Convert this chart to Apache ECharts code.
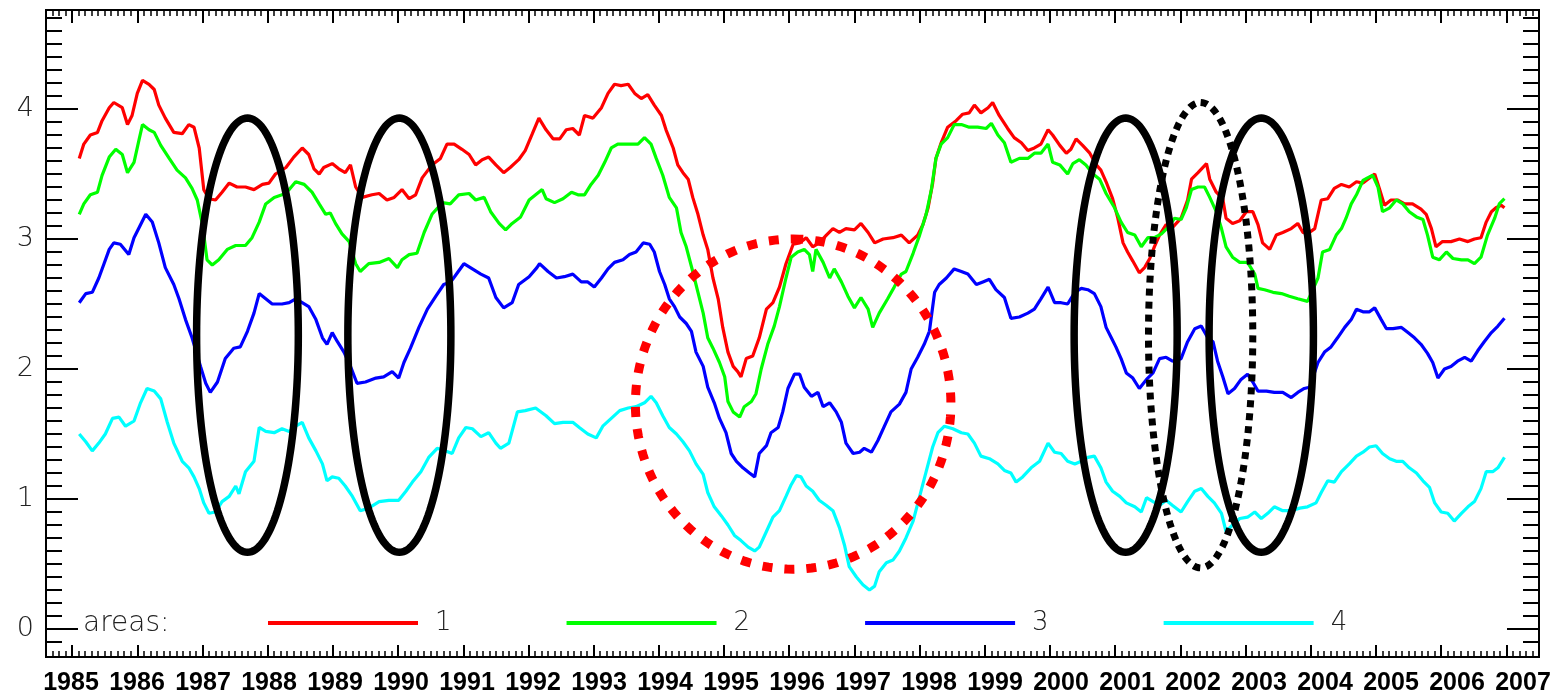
<!DOCTYPE html>
<html><head><meta charset="utf-8">
<script src="https://cdn.jsdelivr.net/npm/echarts@6/dist/echarts.min.js"></script>
<style>html,body{margin:0;padding:0;background:#fff}#c{width:1561px;height:696px}</style>
</head><body><div id="c"></div>
<script>
// ---------------- data ----------------
const seriesNames = ['1', '2', '3', '4'];
const legendTitle = 'areas:';
const xTickYears = [1985, 2007];          // first / last labelled year
const yTickRange = [0, 4];                // labelled y ticks

const area1 = [[1985.11,3.62],[1985.18,3.73],[1985.28,3.80],[1985.39,3.82],[1985.46,3.91],[1985.57,4.01],[1985.64,4.05],[1985.77,4.01],[1985.85,3.88],[1985.92,3.95],[1986.00,4.12],[1986.08,4.22],[1986.18,4.19],[1986.26,4.15],[1986.33,4.03],[1986.43,3.93],[1986.56,3.82],[1986.69,3.81],[1986.79,3.88],[1986.87,3.86],[1986.95,3.70],[1987.02,3.38],[1987.10,3.31],[1987.20,3.30],[1987.30,3.36],[1987.41,3.43],[1987.53,3.40],[1987.66,3.40],[1987.79,3.38],[1987.92,3.42],[1988.02,3.43],[1988.12,3.50],[1988.28,3.55],[1988.40,3.63],[1988.53,3.70],[1988.63,3.65],[1988.71,3.54],[1988.79,3.50],[1988.86,3.55],[1988.99,3.58],[1989.09,3.54],[1989.19,3.51],[1989.27,3.57],[1989.35,3.40],[1989.45,3.32],[1989.60,3.34],[1989.71,3.35],[1989.83,3.30],[1989.94,3.32],[1990.06,3.38],[1990.17,3.31],[1990.27,3.34],[1990.37,3.47],[1990.52,3.57],[1990.65,3.62],[1990.75,3.73],[1990.86,3.73],[1990.98,3.69],[1991.09,3.65],[1991.19,3.57],[1991.29,3.61],[1991.39,3.63],[1991.50,3.57],[1991.62,3.51],[1991.72,3.55],[1991.85,3.61],[1991.95,3.68],[1992.06,3.81],[1992.16,3.93],[1992.27,3.84],[1992.38,3.77],[1992.48,3.77],[1992.58,3.84],[1992.68,3.85],[1992.78,3.80],[1992.86,3.95],[1992.99,3.93],[1993.12,4.01],[1993.22,4.12],[1993.32,4.19],[1993.42,4.18],[1993.53,4.19],[1993.63,4.12],[1993.73,4.08],[1993.83,4.11],[1993.93,4.03],[1994.04,3.95],[1994.11,3.84],[1994.22,3.70],[1994.29,3.57],[1994.37,3.51],[1994.45,3.46],[1994.52,3.32],[1994.60,3.19],[1994.68,3.03],[1994.75,2.92],[1994.83,2.70],[1994.91,2.54],[1994.98,2.32],[1995.06,2.13],[1995.14,2.02],[1995.21,1.98],[1995.26,1.94],[1995.34,2.08],[1995.44,2.10],[1995.54,2.24],[1995.65,2.46],[1995.75,2.51],[1995.85,2.63],[1995.95,2.81],[1996.06,2.96],[1996.16,2.97],[1996.26,3.01],[1996.36,2.94],[1996.46,2.97],[1996.57,3.03],[1996.67,3.08],[1996.77,3.05],[1996.87,3.08],[1997.00,3.07],[1997.10,3.12],[1997.21,3.05],[1997.31,2.97],[1997.44,3.00],[1997.59,3.01],[1997.72,3.03],[1997.84,2.97],[1997.97,3.03],[1998.05,3.11],[1998.13,3.24],[1998.20,3.43],[1998.25,3.62],[1998.33,3.74],[1998.43,3.86],[1998.56,3.91],[1998.66,3.96],[1998.76,3.97],[1998.84,4.03],[1998.94,3.97],[1999.05,4.01],[1999.12,4.05],[1999.22,3.95],[1999.35,3.85],[1999.45,3.78],[1999.56,3.74],[1999.66,3.68],[1999.76,3.70],[1999.86,3.73],[1999.97,3.84],[2000.04,3.80],[2000.15,3.72],[2000.25,3.66],[2000.32,3.69],[2000.40,3.77],[2000.50,3.72],[2000.61,3.66],[2000.71,3.57],[2000.78,3.53],[2000.86,3.44],[2000.96,3.31],[2001.04,3.16],[2001.12,2.97],[2001.19,2.90],[2001.27,2.83],[2001.37,2.74],[2001.45,2.78],[2001.53,2.85],[2001.60,2.94],[2001.68,3.03],[2001.78,3.11],[2001.88,3.09],[2002.01,3.16],[2002.11,3.30],[2002.17,3.46],[2002.27,3.51],[2002.40,3.58],[2002.45,3.46],[2002.55,3.36],[2002.65,3.31],[2002.70,3.16],[2002.80,3.12],[2002.91,3.14],[2003.01,3.21],[2003.11,3.21],[2003.19,3.11],[2003.26,2.97],[2003.37,2.92],[2003.47,3.03],[2003.57,3.05],[2003.70,3.08],[2003.80,3.12],[2003.88,3.05],[2003.95,3.04],[2004.06,3.08],[2004.16,3.30],[2004.26,3.31],[2004.36,3.39],[2004.47,3.42],[2004.59,3.40],[2004.70,3.44],[2004.80,3.43],[2004.90,3.47],[2004.98,3.50],[2005.05,3.39],[2005.13,3.26],[2005.23,3.30],[2005.33,3.30],[2005.44,3.27],[2005.56,3.27],[2005.69,3.23],[2005.77,3.19],[2005.85,3.08],[2005.92,2.94],[2006.02,2.98],[2006.15,2.98],[2006.28,3.00],[2006.41,2.98],[2006.51,3.00],[2006.61,3.01],[2006.69,3.13],[2006.77,3.21],[2006.84,3.24],[2006.92,3.26],[2006.97,3.24]];

const area2 = [[1985.11,3.19],[1985.18,3.27],[1985.28,3.34],[1985.39,3.36],[1985.46,3.49],[1985.57,3.63],[1985.67,3.69],[1985.77,3.65],[1985.85,3.51],[1985.95,3.59],[1986.03,3.77],[1986.08,3.88],[1986.18,3.84],[1986.26,3.82],[1986.36,3.72],[1986.49,3.62],[1986.61,3.53],[1986.74,3.47],[1986.84,3.39],[1986.92,3.30],[1987.00,3.11],[1987.07,2.84],[1987.15,2.80],[1987.25,2.84],[1987.38,2.92],[1987.51,2.95],[1987.66,2.95],[1987.76,3.01],[1987.87,3.13],[1987.97,3.27],[1988.10,3.32],[1988.22,3.34],[1988.33,3.38],[1988.43,3.44],[1988.56,3.42],[1988.68,3.36],[1988.79,3.27],[1988.89,3.19],[1988.96,3.20],[1989.04,3.12],[1989.14,3.04],[1989.25,2.98],[1989.35,2.81],[1989.42,2.75],[1989.55,2.81],[1989.71,2.82],[1989.86,2.85],[1989.99,2.78],[1990.06,2.84],[1990.17,2.88],[1990.29,2.89],[1990.40,3.05],[1990.52,3.19],[1990.68,3.28],[1990.80,3.27],[1990.93,3.34],[1991.09,3.35],[1991.19,3.30],[1991.32,3.32],[1991.42,3.21],[1991.55,3.12],[1991.65,3.07],[1991.75,3.12],[1991.88,3.17],[1992.01,3.30],[1992.11,3.34],[1992.21,3.38],[1992.27,3.31],[1992.40,3.28],[1992.53,3.31],[1992.66,3.36],[1992.76,3.34],[1992.86,3.34],[1992.96,3.42],[1993.07,3.49],[1993.17,3.59],[1993.27,3.70],[1993.37,3.73],[1993.47,3.73],[1993.58,3.73],[1993.68,3.73],[1993.78,3.78],[1993.88,3.73],[1993.96,3.62],[1994.06,3.49],[1994.16,3.32],[1994.27,3.24],[1994.34,3.05],[1994.42,2.94],[1994.52,2.75],[1994.60,2.59],[1994.68,2.43],[1994.75,2.24],[1994.83,2.16],[1994.93,2.05],[1995.01,1.94],[1995.06,1.75],[1995.14,1.67],[1995.24,1.63],[1995.31,1.71],[1995.42,1.75],[1995.49,1.81],[1995.57,2.00],[1995.67,2.19],[1995.77,2.33],[1995.85,2.48],[1995.95,2.70],[1996.03,2.86],[1996.13,2.90],[1996.23,2.92],[1996.31,2.88],[1996.36,2.75],[1996.41,2.92],[1996.52,2.82],[1996.62,2.70],[1996.69,2.77],[1996.80,2.67],[1996.90,2.56],[1997.00,2.47],[1997.10,2.55],[1997.21,2.46],[1997.28,2.32],[1997.38,2.43],[1997.51,2.54],[1997.61,2.63],[1997.72,2.73],[1997.79,2.75],[1997.90,2.89],[1998.00,3.03],[1998.10,3.19],[1998.18,3.38],[1998.25,3.62],[1998.33,3.73],[1998.43,3.78],[1998.53,3.88],[1998.64,3.88],[1998.76,3.86],[1998.89,3.86],[1999.02,3.85],[1999.10,3.89],[1999.20,3.80],[1999.30,3.74],[1999.40,3.59],[1999.53,3.62],[1999.66,3.62],[1999.76,3.66],[1999.86,3.66],[1999.97,3.73],[2000.04,3.59],[2000.15,3.57],[2000.27,3.50],[2000.35,3.58],[2000.45,3.61],[2000.55,3.57],[2000.66,3.50],[2000.76,3.46],[2000.86,3.35],[2000.99,3.24],[2001.09,3.13],[2001.19,3.05],[2001.30,3.03],[2001.40,2.94],[2001.50,3.01],[2001.60,3.01],[2001.71,3.04],[2001.81,3.09],[2001.91,3.16],[2002.01,3.15],[2002.09,3.24],[2002.17,3.38],[2002.27,3.40],[2002.37,3.40],[2002.45,3.32],[2002.55,3.21],[2002.63,3.08],[2002.70,2.94],[2002.80,2.86],[2002.91,2.82],[2003.03,2.82],[2003.14,2.73],[2003.19,2.62],[2003.29,2.61],[2003.42,2.59],[2003.55,2.58],[2003.67,2.56],[2003.80,2.54],[2003.95,2.52],[2004.11,2.70],[2004.18,2.90],[2004.29,2.92],[2004.39,3.03],[2004.47,3.08],[2004.54,3.16],[2004.62,3.27],[2004.70,3.34],[2004.80,3.45],[2004.87,3.47],[2004.95,3.49],[2005.03,3.40],[2005.10,3.21],[2005.21,3.24],[2005.31,3.30],[2005.41,3.27],[2005.51,3.21],[2005.62,3.17],[2005.72,3.15],[2005.79,3.03],[2005.87,2.86],[2005.97,2.84],[2006.08,2.90],[2006.18,2.85],[2006.31,2.84],[2006.41,2.84],[2006.51,2.81],[2006.61,2.86],[2006.71,3.03],[2006.82,3.16],[2006.89,3.27],[2006.97,3.31]];

const area3 = [[1985.11,2.51],[1985.21,2.58],[1985.31,2.59],[1985.41,2.70],[1985.49,2.81],[1985.57,2.92],[1985.64,2.97],[1985.74,2.96],[1985.87,2.88],[1985.95,3.01],[1986.05,3.11],[1986.13,3.19],[1986.23,3.13],[1986.33,2.97],[1986.43,2.78],[1986.56,2.65],[1986.64,2.54],[1986.74,2.38],[1986.84,2.24],[1986.97,2.02],[1987.05,1.89],[1987.12,1.82],[1987.23,1.90],[1987.35,2.08],[1987.48,2.16],[1987.58,2.17],[1987.69,2.29],[1987.79,2.43],[1987.87,2.58],[1987.97,2.54],[1988.07,2.50],[1988.22,2.50],[1988.33,2.51],[1988.43,2.54],[1988.53,2.51],[1988.63,2.48],[1988.74,2.38],[1988.84,2.24],[1988.91,2.19],[1988.99,2.28],[1989.07,2.21],[1989.17,2.13],[1989.27,2.02],[1989.37,1.89],[1989.50,1.90],[1989.66,1.93],[1989.78,1.94],[1989.91,1.98],[1990.01,1.93],[1990.09,2.05],[1990.19,2.16],[1990.32,2.32],[1990.45,2.46],[1990.58,2.56],[1990.70,2.65],[1990.81,2.67],[1990.91,2.74],[1991.01,2.81],[1991.14,2.77],[1991.27,2.73],[1991.39,2.70],[1991.50,2.55],[1991.62,2.47],[1991.75,2.51],[1991.85,2.65],[1992.01,2.71],[1992.13,2.78],[1992.17,2.81],[1992.30,2.75],[1992.43,2.70],[1992.55,2.71],[1992.68,2.73],[1992.81,2.67],[1992.91,2.67],[1993.01,2.63],[1993.12,2.70],[1993.22,2.77],[1993.32,2.82],[1993.45,2.84],[1993.55,2.88],[1993.65,2.90],[1993.76,2.97],[1993.86,2.96],[1993.93,2.90],[1994.01,2.75],[1994.09,2.65],[1994.16,2.54],[1994.24,2.48],[1994.32,2.40],[1994.42,2.35],[1994.50,2.29],[1994.57,2.13],[1994.68,2.02],[1994.75,1.86],[1994.85,1.74],[1994.93,1.62],[1995.03,1.51],[1995.11,1.35],[1995.19,1.29],[1995.29,1.24],[1995.39,1.20],[1995.47,1.17],[1995.54,1.35],[1995.65,1.41],[1995.72,1.51],[1995.83,1.55],[1995.90,1.67],[1995.98,1.85],[1996.08,1.96],[1996.16,1.96],[1996.23,1.86],[1996.34,1.79],[1996.44,1.82],[1996.52,1.71],[1996.62,1.74],[1996.72,1.67],[1996.80,1.59],[1996.87,1.43],[1996.98,1.35],[1997.08,1.36],[1997.15,1.39],[1997.26,1.36],[1997.36,1.45],[1997.46,1.56],[1997.56,1.67],[1997.69,1.73],[1997.79,1.82],[1997.87,2.00],[1997.97,2.09],[1998.07,2.19],[1998.15,2.29],[1998.23,2.59],[1998.30,2.65],[1998.41,2.70],[1998.53,2.77],[1998.64,2.75],[1998.74,2.73],[1998.87,2.65],[1998.97,2.67],[1999.07,2.69],[1999.17,2.61],[1999.30,2.55],[1999.40,2.39],[1999.53,2.40],[1999.66,2.43],[1999.76,2.46],[1999.86,2.54],[1999.97,2.63],[2000.07,2.51],[2000.17,2.51],[2000.27,2.50],[2000.38,2.59],[2000.48,2.62],[2000.58,2.61],[2000.68,2.58],[2000.78,2.48],[2000.86,2.32],[2000.94,2.24],[2001.01,2.17],[2001.09,2.08],[2001.17,1.97],[2001.27,1.93],[2001.37,1.85],[2001.48,1.92],[2001.58,1.97],[2001.68,2.08],[2001.78,2.09],[2001.88,2.06],[2002.01,2.08],[2002.11,2.21],[2002.22,2.31],[2002.32,2.33],[2002.42,2.24],[2002.50,2.21],[2002.57,2.06],[2002.65,1.94],[2002.73,1.81],[2002.83,1.85],[2002.93,1.92],[2003.03,1.96],[2003.11,1.90],[2003.19,1.83],[2003.32,1.83],[2003.44,1.82],[2003.57,1.82],[2003.70,1.78],[2003.80,1.82],[2003.90,1.85],[2003.98,1.86],[2004.11,2.05],[2004.21,2.13],[2004.31,2.17],[2004.41,2.24],[2004.52,2.32],[2004.62,2.38],[2004.70,2.46],[2004.80,2.44],[2004.90,2.44],[2004.98,2.47],[2005.08,2.38],[2005.16,2.31],[2005.26,2.31],[2005.39,2.32],[2005.49,2.28],[2005.59,2.24],[2005.69,2.19],[2005.79,2.12],[2005.87,2.05],[2005.95,1.93],[2006.05,2.00],[2006.15,2.02],[2006.25,2.06],[2006.36,2.09],[2006.46,2.06],[2006.56,2.14],[2006.66,2.21],[2006.77,2.28],[2006.87,2.33],[2006.97,2.39]];

const area4 = [[1985.11,1.50],[1985.21,1.44],[1985.31,1.37],[1985.41,1.43],[1985.51,1.50],[1985.62,1.62],[1985.72,1.63],[1985.82,1.56],[1985.95,1.60],[1986.05,1.74],[1986.15,1.85],[1986.26,1.83],[1986.36,1.77],[1986.46,1.59],[1986.56,1.43],[1986.69,1.29],[1986.79,1.24],[1986.87,1.17],[1986.95,1.08],[1987.02,0.97],[1987.10,0.89],[1987.20,0.90],[1987.30,0.98],[1987.41,1.02],[1987.51,1.10],[1987.56,1.04],[1987.66,1.21],[1987.79,1.29],[1987.87,1.55],[1987.97,1.52],[1988.10,1.51],[1988.22,1.54],[1988.33,1.52],[1988.43,1.56],[1988.53,1.59],[1988.63,1.47],[1988.74,1.37],[1988.84,1.27],[1988.91,1.14],[1988.99,1.17],[1989.09,1.16],[1989.19,1.10],[1989.30,1.02],[1989.42,0.91],[1989.55,0.93],[1989.71,0.98],[1989.86,0.99],[1990.01,0.99],[1990.12,1.06],[1990.22,1.13],[1990.35,1.21],[1990.47,1.32],[1990.60,1.39],[1990.73,1.37],[1990.83,1.35],[1990.93,1.47],[1991.04,1.55],[1991.14,1.54],[1991.27,1.48],[1991.39,1.51],[1991.50,1.43],[1991.57,1.39],[1991.70,1.43],[1991.83,1.67],[1991.95,1.68],[1992.11,1.70],[1992.27,1.64],[1992.40,1.58],[1992.53,1.59],[1992.68,1.59],[1992.78,1.55],[1992.91,1.50],[1993.04,1.47],[1993.14,1.56],[1993.27,1.62],[1993.40,1.68],[1993.53,1.70],[1993.65,1.71],[1993.78,1.74],[1993.88,1.79],[1993.96,1.74],[1994.06,1.64],[1994.16,1.55],[1994.27,1.50],[1994.37,1.44],[1994.47,1.37],[1994.57,1.27],[1994.68,1.19],[1994.75,1.05],[1994.85,0.94],[1994.96,0.87],[1995.06,0.80],[1995.16,0.72],[1995.26,0.68],[1995.37,0.63],[1995.47,0.60],[1995.54,0.63],[1995.65,0.75],[1995.75,0.86],[1995.85,0.91],[1995.95,1.02],[1996.03,1.11],[1996.11,1.18],[1996.18,1.17],[1996.26,1.10],[1996.36,1.06],[1996.46,0.99],[1996.57,0.95],[1996.67,0.91],[1996.77,0.78],[1996.85,0.64],[1996.92,0.48],[1997.03,0.40],[1997.13,0.34],[1997.23,0.30],[1997.31,0.33],[1997.38,0.44],[1997.49,0.51],[1997.59,0.53],[1997.69,0.60],[1997.79,0.70],[1997.90,0.83],[1998.00,1.02],[1998.10,1.21],[1998.20,1.40],[1998.28,1.51],[1998.38,1.56],[1998.51,1.54],[1998.64,1.51],[1998.74,1.50],[1998.84,1.43],[1998.94,1.33],[1999.07,1.31],[1999.20,1.27],[1999.30,1.22],[1999.40,1.20],[1999.48,1.13],[1999.58,1.17],[1999.71,1.24],[1999.84,1.29],[1999.97,1.43],[2000.07,1.36],[2000.17,1.35],[2000.27,1.29],[2000.38,1.27],[2000.48,1.29],[2000.58,1.32],[2000.68,1.33],[2000.78,1.24],[2000.86,1.13],[2000.96,1.06],[2001.07,1.02],[2001.17,0.97],[2001.30,0.94],[2001.40,0.90],[2001.48,1.01],[2001.58,0.98],[2001.68,0.95],[2001.78,0.99],[2001.88,0.95],[2002.01,0.90],[2002.11,0.98],[2002.22,1.06],[2002.32,1.08],[2002.42,1.02],[2002.52,0.97],[2002.63,0.89],[2002.70,0.75],[2002.80,0.80],[2002.91,0.85],[2003.03,0.86],[2003.14,0.90],[2003.24,0.85],[2003.34,0.89],[2003.44,0.94],[2003.57,0.91],[2003.70,0.91],[2003.83,0.93],[2003.95,0.94],[2004.08,0.97],[2004.16,1.05],[2004.26,1.14],[2004.36,1.13],[2004.47,1.21],[2004.59,1.27],[2004.70,1.33],[2004.80,1.36],[2004.90,1.40],[2005.00,1.41],[2005.10,1.35],[2005.21,1.31],[2005.31,1.29],[2005.41,1.29],[2005.51,1.24],[2005.62,1.20],[2005.72,1.14],[2005.82,1.09],[2005.90,0.97],[2006.00,0.90],[2006.10,0.89],[2006.20,0.83],[2006.31,0.89],[2006.41,0.94],[2006.51,0.98],[2006.61,1.08],[2006.69,1.21],[2006.79,1.21],[2006.87,1.24],[2006.97,1.32]];

// annotation ovals, in data units: centre year, centre value, half-width (years), half-height (value)
const ovalYears      = [1987.69, 1990.02, 2001.16, 2002.31, 2003.24, 1996.06];
const ovalValues     = [2.26, 2.26, 2.26, 2.26, 2.26, 1.73];
const ovalHalfYears  = [0.78, 0.79, 0.79, 0.80, 0.80, 2.42];
const ovalHalfValues = [1.67, 1.67, 1.67, 1.79, 1.67, 1.27];
const ovalKinds      = ['solid', 'solid', 'solid', 'dots', 'solid', 'reddots'];

// ---------------- styles / layout ----------------
const seriesData = [area1, area2, area3, area4];
const seriesColors = ['#ff0000', '#00ff00', '#0000ff', '#00ffff'];
const ovalStyles = {
  solid:   { stroke: '#000', lineWidth: 7.5, lineDash: null },
  dots:    { stroke: '#000', lineWidth: 7, lineDash: [7, 6] },
  reddots: { stroke: '#ff0000', lineWidth: 9, lineDash: [10, 12] }
};
const X_MIN = 1984.6, X_MAX = 2007.5;
const Y_MIN = -0.2154, Y_MAX = 4.7615;
const thinFont = '"DejaVu Sans", sans-serif';

const chart = echarts.init(document.getElementById('c'), null, { renderer: 'canvas' });

function tickAxis(extra) {
  return Object.assign({
    type: 'value', axisLine: { show: false }, axisLabel: { show: false },
    splitLine: { show: false }
  }, extra);
}

const option = {
  animation: false,
  backgroundColor: '#fff',
  grid: [
    { left: 46, right: 22, top: 10, bottom: 39, show: true, borderColor: '#000', borderWidth: 2, backgroundColor: 'transparent' },
    { left: 46, right: 22, top: 10, bottom: 39 },        // x minor ticks
    { left: 72.08, right: 54.6, top: 10, bottom: 39 },   // x major ticks
    { left: 46, right: 22, top: 18, bottom: 54 },        // y minor ticks
    { left: 46, right: 22, top: 109, bottom: 67 },       // y major ticks + labels
    { left: 71, right: 38, top: 10, bottom: 39 }         // x labels
  ],
  xAxis: [
    { gridIndex: 0, type: 'value', min: X_MIN, max: X_MAX, show: false },
    tickAxis({ gridIndex: 1, position: 'bottom', min: X_MIN, max: X_MAX, interval: 0.1,
      axisTick: { inside: true, length: 6, lineStyle: { color: '#000', width: 1.5 } } }),
    tickAxis({ gridIndex: 1, position: 'top', min: X_MIN, max: X_MAX, interval: 0.1,
      axisTick: { inside: true, length: 6, lineStyle: { color: '#000', width: 1.5 } } }),
    tickAxis({ gridIndex: 2, position: 'bottom', min: xTickYears[0], max: xTickYears[1], interval: 1,
      axisTick: { inside: true, length: 12, lineStyle: { color: '#000', width: 2 } } }),
    tickAxis({ gridIndex: 2, position: 'top', min: xTickYears[0], max: xTickYears[1], interval: 1,
      axisTick: { inside: true, length: 13, lineStyle: { color: '#000', width: 2 } } }),
    tickAxis({ gridIndex: 5, position: 'bottom', min: xTickYears[0], max: xTickYears[1], interval: 1,
      axisTick: { show: false },
      axisLabel: { show: true, margin: 15, color: '#000', fontSize: 25, fontWeight: 'bold',
        fontFamily: '"Liberation Sans", Arial, sans-serif',
        formatter: v => String(Math.round(v)) } }),
    { gridIndex: 3, type: 'value', show: false },
    { gridIndex: 4, type: 'value', show: false }
  ],
  yAxis: [
    { gridIndex: 0, type: 'value', min: Y_MIN, max: Y_MAX, show: false },
    { gridIndex: 1, type: 'value', show: false },
    { gridIndex: 2, type: 'value', show: false },
    tickAxis({ gridIndex: 3, position: 'left', min: -0.1, max: 4.7, interval: 0.1,
      axisTick: { inside: true, length: 16, lineStyle: { color: '#000', width: 2 } } }),
    tickAxis({ gridIndex: 3, position: 'right', min: -0.1, max: 4.7, interval: 0.1,
      axisTick: { inside: true, length: 16, lineStyle: { color: '#000', width: 2 } } }),
    tickAxis({ gridIndex: 4, position: 'left', min: yTickRange[0], max: yTickRange[1], interval: 1,
      axisTick: { inside: true, length: 32, lineStyle: { color: '#000', width: 2 } },
      axisLabel: { show: true, margin: 12, color: '#222', fontSize: 27, fontWeight: 200, fontFamily: thinFont,
        formatter: v => String(Math.round(v)) } }),
    tickAxis({ gridIndex: 4, position: 'right', min: yTickRange[0], max: yTickRange[1], interval: 1,
      axisTick: { inside: true, length: 32, lineStyle: { color: '#000', width: 2 } } }),
    { gridIndex: 5, type: 'value', show: false }
  ],
  legend: {
    data: seriesNames,
    left: 268, top: 610, padding: 0,
    itemWidth: 150, itemHeight: 4, itemGap: 115, icon: 'rect',
    selectedMode: false,
    textStyle: { color: '#222', fontSize: 26, fontWeight: 200, fontFamily: thinFont, padding: [0, 0, 12, 12] }
  },
  graphic: [
    { id: 'areasLabel', type: 'text', left: 83, top: 610, z: 20,
      style: { text: legendTitle, fill: '#222', font: '200 28px "DejaVu Sans", sans-serif' } }
  ],
  series: seriesData.map((d, i) => ({
    name: seriesNames[i], type: 'line', xAxisIndex: 0, yAxisIndex: 0,
    data: d, showSymbol: false, symbol: 'none', clip: true,
    lineStyle: { color: seriesColors[i], width: 3.2 },
    itemStyle: { color: seriesColors[i] },
    z: 3
  }))
};
chart.setOption(option);

function drawOvals() {
  const els = ovalYears.map((yr, i) => {
    const c = chart.convertToPixel({ gridIndex: 0 }, [yr, ovalValues[i]]);
    const e = chart.convertToPixel({ gridIndex: 0 }, [yr + ovalHalfYears[i], ovalValues[i] + ovalHalfValues[i]]);
    const rx = Math.abs(e[0] - c[0]), ry = Math.abs(c[1] - e[1]);
    const pts = [];
    const N = 160;
    for (let k = 0; k < N; k++) {
      const t = -Math.PI / 2 + 2 * Math.PI * k / N;
      pts.push([c[0] + rx * Math.cos(t), c[1] + ry * Math.sin(t)]);
    }
    const st = ovalStyles[ovalKinds[i]];
    return {
      id: 'oval' + i, type: 'polygon', z: 30, silent: true,
      shape: { points: pts },
      style: { fill: null, stroke: st.stroke, lineWidth: st.lineWidth, lineDash: st.lineDash, lineCap: 'butt' }
    };
  });
  chart.setOption({ graphic: els });
}
drawOvals();
</script></body></html>
